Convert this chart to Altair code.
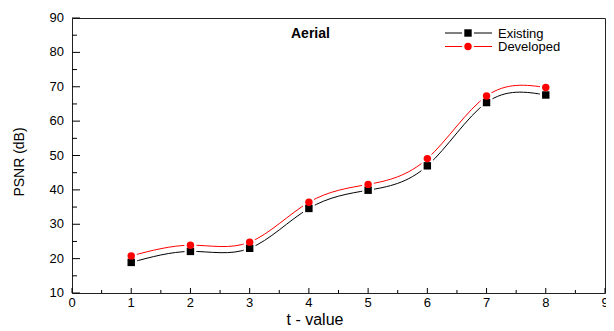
import altair as alt
import pandas as pd

t_values = [1, 2, 3, 4, 5, 6, 7, 8]
existing = [18.9, 22.1, 23.0, 34.6, 39.9, 47.0, 65.4, 67.6]
developed = [20.8, 23.9, 24.8, 36.4, 41.6, 49.1, 67.3, 69.8]
series_names = ["Existing", "Developed"]
series_colors = ["#000000", "#ff0000"]
series_shapes = ["square", "circle"]

x_major = list(range(0, 10))
x_minor = [0.5, 1.5, 2.5, 3.5, 4.5, 5.5, 6.5, 7.5, 8.5]
y_major = list(range(10, 91, 10))
y_minor = [15, 25, 35, 45, 55, 65, 75, 85]
x_title = "t - value"
y_title = "PSNR (dB)"
panel_title = "Aerial"

W, H = 533, 275
FONT = "Liberation Sans"

rows = []
for t, e, d in zip(t_values, existing, developed):
    rows.append({"t": t, "psnr": e, "series": "Existing"})
    rows.append({"t": t, "psnr": d, "series": "Developed"})
df = pd.DataFrame(rows)

xs = alt.Scale(domain=[0, 9], nice=False, zero=False)
ys = alt.Scale(domain=[10, 90], nice=False, zero=False)
col = alt.Color("series:N", scale=alt.Scale(domain=series_names, range=series_colors), legend=None)
shp = alt.Shape("series:N", scale=alt.Scale(domain=series_names, range=series_shapes), legend=None)

X = lambda f: alt.X(f, scale=xs, axis=None)
Y = lambda f: alt.Y(f, scale=ys, axis=None)

base = alt.Chart(df)
lines = base.mark_line(interpolate="natural", strokeWidth=1).encode(
    x=X("t:Q"), y=Y("psnr:Q"), color=col, detail="series:N")
halo = base.mark_point(filled=True, opacity=1, color="white", size=140).encode(
    x=X("t:Q"), y=Y("psnr:Q"), shape=shp)
pts = base.mark_point(filled=True, opacity=1, size=55).encode(
    x=X("t:Q"), y=Y("psnr:Q"), color=col, shape=shp)

def xticks(vals, length):
    return alt.Chart(pd.DataFrame({"v": vals})).mark_rule(color="#000", strokeWidth=1).encode(
        x=X("v:Q"), y=alt.value(H), y2=alt.value(H - length))

def yticks(vals, length):
    return alt.Chart(pd.DataFrame({"v": vals})).mark_rule(color="#000", strokeWidth=1).encode(
        y=Y("v:Q"), x=alt.value(0), x2=alt.value(length))

xlabels = alt.Chart(pd.DataFrame({"v": x_major})).mark_text(
    font=FONT, fontSize=13, align="center", baseline="middle", color="#000").encode(
    x=X("v:Q"), y=alt.value(H + 10), text="v:Q")
ylabels = alt.Chart(pd.DataFrame({"v": y_major})).mark_text(
    font=FONT, fontSize=13, align="right", baseline="middle", color="#000").encode(
    y=Y("v:Q"), x=alt.value(-8), text="v:Q")

one = pd.DataFrame({"a": [0]})
xtitle = alt.Chart(one).mark_text(text=x_title, font=FONT, fontSize=16, align="center",
                                  baseline="middle", color="#000").encode(
    x=alt.value(243), y=alt.value(H + 27))
ytitle = alt.Chart(one).mark_text(text=y_title, font=FONT, fontSize=14, align="center",
                                  baseline="middle", angle=270, color="#000").encode(
    x=alt.value(-52), y=alt.value(144))
title_txt = alt.Chart(one).mark_text(text=panel_title, font=FONT, fontSize=14, fontWeight="bold",
                                     align="left", baseline="middle", color="#000").encode(
    x=alt.value(219), y=alt.value(15.5))

legend_layers = []
for i, (name, c, s) in enumerate(zip(series_names, series_colors, series_shapes)):
    yy = 15.0 + i * 13.5
    legend_layers.append(alt.Chart(one).mark_rule(color=c, strokeWidth=1).encode(
        x=alt.value(373), x2=alt.value(420), y=alt.value(yy)))
    legend_layers.append(alt.Chart(one).mark_point(filled=True, opacity=1, color="white", size=140, shape=s).encode(
        x=alt.value(396), y=alt.value(yy)))
    legend_layers.append(alt.Chart(one).mark_point(filled=True, opacity=1, color=c, size=55, shape=s).encode(
        x=alt.value(396), y=alt.value(yy)))
    legend_layers.append(alt.Chart(one).mark_text(text=name, font=FONT, fontSize=13, align="left",
                                                  baseline="middle", color="#000").encode(
        x=alt.value(426), y=alt.value(yy + 0.5)))

chart = alt.layer(
    lines, halo, pts,
    xticks(x_major, 5), xticks(x_minor, 3), yticks(y_major, 8), yticks(y_minor, 5),
    xlabels, ylabels, xtitle, ytitle, title_txt, *legend_layers
).properties(
    width=W, height=H,
    autosize=alt.AutoSizeParams(type="none"),
    padding={"left": 64, "top": 10, "right": 1, "bottom": 38},
).configure_view(stroke="#222", strokeWidth=1)

chart.save("out.html", embed_options={"renderer": "svg", "actions": False})
